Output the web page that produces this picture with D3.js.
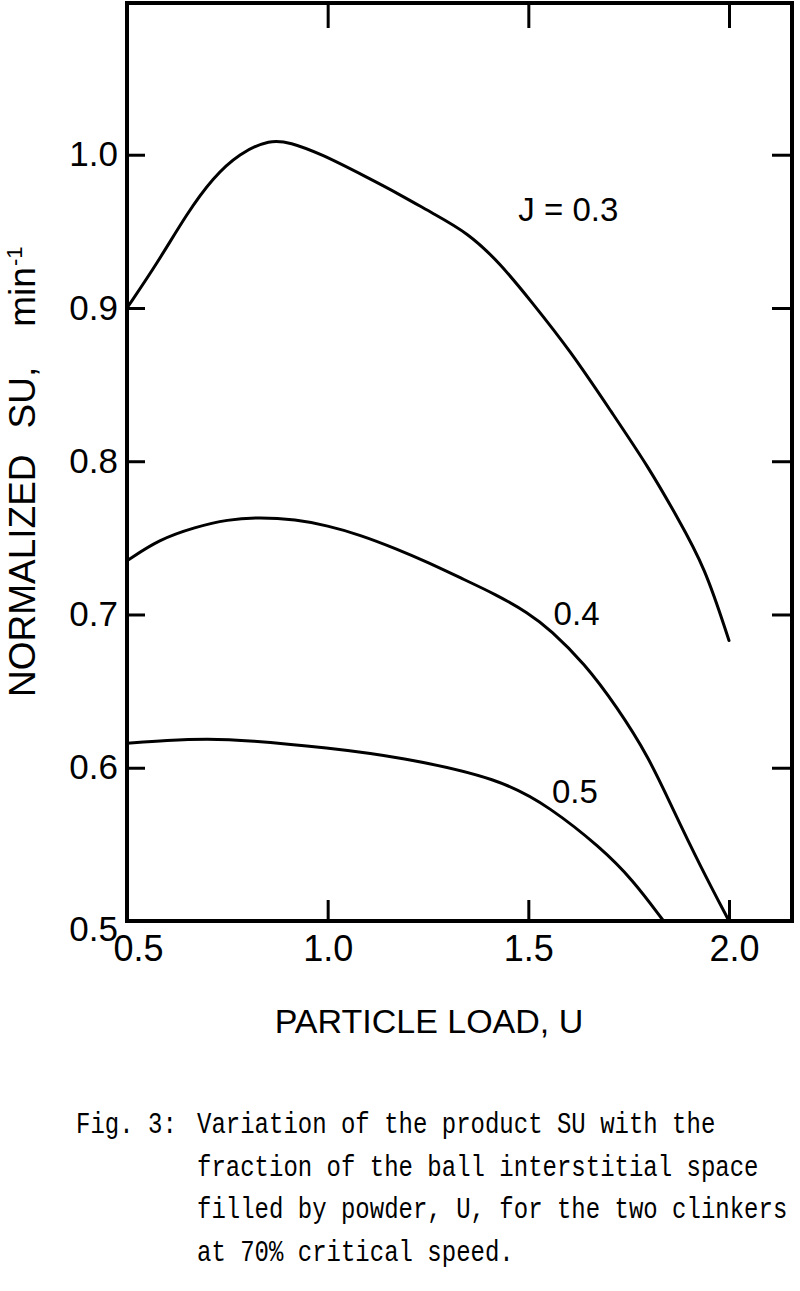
<!DOCTYPE html>
<html>
<head>
<meta charset="utf-8">
<script src="https://cdn.jsdelivr.net/npm/d3@7"></script>
<style>
  html, body { margin: 0; padding: 0; background: #fff; }
  svg { display: block; }
</style>
</head>
<body>
<svg id="chart" width="800" height="1291"></svg>
<script>
// ---- data ----
const xTicks = [0.5, 1.0, 1.5, 2.0];
const yTicks = [0.5, 0.6, 0.7, 0.8, 0.9, 1.0];
const seriesNames = ["J = 0.3", "0.4", "0.5"];
const curveJ03 = [[0.5,0.900],[0.575,0.929],[0.65,0.962],[0.714,0.985],[0.78,1.001],[0.857,1.010],[0.906,1.008],[0.98,1.001],[1.10,0.985],[1.18,0.974],[1.26,0.962],[1.35,0.949],[1.43,0.929],[1.505,0.905],[1.605,0.872],[1.71,0.831],[1.80,0.796],[1.87,0.764],[1.94,0.731],[2.0,0.683]];
const curveJ04 = [[0.5,0.735],[0.58,0.749],[0.67,0.757],[0.75,0.762],[0.83,0.7635],[0.92,0.762],[1.0,0.758],[1.08,0.752],[1.17,0.743],[1.25,0.734],[1.33,0.724],[1.42,0.713],[1.50,0.701],[1.555,0.690],[1.64,0.668],[1.72,0.640],[1.80,0.607],[1.86,0.573],[1.93,0.535],[2.0,0.5]];
const curveJ05 = [[0.5,0.616],[0.6,0.618],[0.7,0.619],[0.8,0.618],[1.0,0.613],[1.18,0.607],[1.43,0.593],[1.555,0.574],[1.68,0.548],[1.76,0.527],[1.837,0.5]];
const xTitle = "PARTICLE LOAD, U";
const yTitleParts = ["NORMALIZED", "SU,", "min"];
const yTitleSup = "-1";
const captionLead = "Fig. 3:";
const captionLines = [
  "Variation of the product SU with the",
  "fraction of the ball interstitial space",
  "filled by powder, U, for the two clinkers",
  "at 70% critical speed."
];

// ---- layout ----
const L = 127, R = 792, T = 3, B = 921;
const svg = d3.select("#chart");
const x = d3.scaleLinear().domain([0.5, 2.157]).range([L, R]);
const y = d3.scaleLinear().domain([0.5, 1.099]).range([B, T]);
const lab = "'Liberation Sans', Arial, sans-serif";

// ticks (inward)
const fmt = d3.format(".1f");
const gB = svg.append("g").attr("transform", `translate(0,${B})`)
  .call(d3.axisBottom(x).tickValues(xTicks).tickSizeInner(-21).tickSizeOuter(0).tickPadding(14).tickFormat(fmt));
const gT = svg.append("g").attr("transform", `translate(0,${T})`)
  .call(d3.axisTop(x).tickValues(xTicks.slice(1)).tickSizeInner(-25).tickSizeOuter(0).tickFormat(""));
const gLf = svg.append("g").attr("transform", `translate(${L},0)`)
  .call(d3.axisLeft(y).tickValues(yTicks).tickSizeInner(-18).tickSizeOuter(0).tickPadding(9).tickFormat(fmt));
const gRt = svg.append("g").attr("transform", `translate(${R},0)`)
  .call(d3.axisRight(y).tickValues(yTicks.slice(1)).tickSizeInner(-20).tickSizeOuter(0).tickFormat(""));
[gB, gT, gLf, gRt].forEach(g => {
  g.select(".domain").remove();
  g.selectAll(".tick line").attr("stroke", "#000").attr("stroke-width", 3);
  g.selectAll("text").attr("fill", "#000").attr("font-family", lab);
});
gB.selectAll("text").attr("font-size", 36).attr("dy", "0.71em");
gB.selectAll(".tick").filter(d => d === 0.5).select("text").attr("dx", 11);
gB.selectAll(".tick").filter(d => d === 2.0).select("text").attr("dx", 5);
gLf.selectAll("text").attr("font-size", 35);
gLf.selectAll(".tick").filter(d => d === 0.5).select("text").attr("dy", "0.55em");

// frame
svg.append("rect").attr("x", L).attr("y", T).attr("width", R - L).attr("height", B - T)
  .attr("fill", "none").attr("stroke", "#000").attr("stroke-width", 4);

// curves
const line = d3.line().x(d => x(d[0])).y(d => y(d[1])).curve(d3.curveBasis);
[curveJ03, curveJ04, curveJ05].forEach(c => {
  svg.append("path").datum(c).attr("d", line)
    .attr("fill", "none").attr("stroke", "#000").attr("stroke-width", 3).attr("stroke-linecap", "round");
});

// curve labels
const labelPos = [[1.475, 0.957], [1.563, 0.693], [1.559, 0.577]];
seriesNames.forEach((s, i) => {
  svg.append("text").attr("x", x(labelPos[i][0])).attr("y", y(labelPos[i][1]))
    .attr("font-family", lab).attr("font-size", 33).attr("fill", "#000").text(s);
});

// axis titles
svg.append("text").attr("x", 429).attr("y", 1033).attr("text-anchor", "middle")
  .attr("font-family", lab).attr("font-size", 34).attr("fill", "#000").text(xTitle);

const yt = svg.append("text").attr("transform", "translate(35,697) rotate(-90)")
  .attr("font-family", lab).attr("font-size", 37).attr("fill", "#000");
const gaps = [0, 26, 40];
yTitleParts.forEach((p, i) => yt.append("tspan").attr("dx", gaps[i]).text(p));
yt.append("tspan").attr("font-size", 22).attr("dy", -13).attr("dx", 1).text(yTitleSup);

// caption (monospace, vertically stretched like the typewriter original)
const mono = "'Liberation Mono', 'DejaVu Sans Mono', monospace";
const cap = svg.append("g").attr("font-family", mono).attr("font-size", 24).attr("fill", "#000");
cap.append("text").attr("transform", "translate(76,1133) scale(1,1.2)").text(captionLead);
captionLines.forEach((t, i) => {
  cap.append("text").attr("transform", `translate(197,${1133 + i * 42.5}) scale(1,1.2)`).text(t);
});
</script>
</body>
</html>
